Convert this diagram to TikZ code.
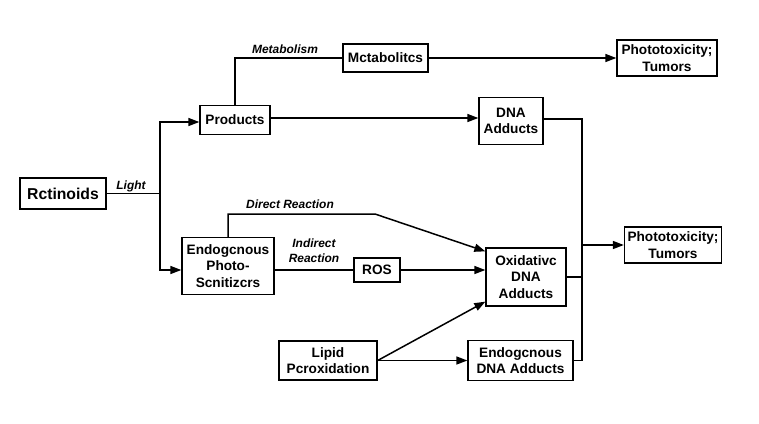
\documentclass[tikz,border=0pt]{standalone}
\usepackage{fontspec}
\setmainfont{Liberation Sans}
\usetikzlibrary{arrows.meta}
\begin{document}
\begin{tikzpicture}[x=1bp,y=-1bp,
  box/.style={draw,line width=1.3bp,fill=white,align=center,inner sep=0pt,
    font=\bfseries\fontsize{13.7}{16.5}\selectfont},
  lab/.style={font=\bfseries\itshape\fontsize{12}{15}\selectfont,align=center},
  conn/.style={line width=1.5bp},
  arr/.style={conn,-{Triangle[length=11bp,width=8bp]}}]
\useasboundingbox[fill=white] (0,0) rectangle (759,423);
% boxes
\node[box,minimum width=86bp,minimum height=31bp,font=\bfseries\fontsize{15.8}{17}\selectfont] (ret) at (63,193.5) {Rctinoids};
\node[box,minimum width=70bp,minimum height=29bp] (prod) at (235,120) {Products};
\node[box,minimum width=85bp,minimum height=28bp] (met) at (385.5,58) {Mctabolitcs};
\node[box,minimum width=100bp,minimum height=36bp] (ph1) at (667,58) {Phototoxicity;\\Tumors};
\node[box,minimum width=64bp,minimum height=47bp] (dna) at (511,121) {DNA\\Adducts};
\node[box,minimum width=92bp,minimum height=57bp] (endo) at (228,266) {Endogcnous\\Photo-\\Scnitizcrs};
\node[box,minimum width=46bp,minimum height=24bp] (ros) at (377,270) {ROS};
\node[box,minimum width=80bp,minimum height=58bp] (ox) at (526,277) {Oxidativc\\DNA\\Adducts};
\node[box,minimum width=97bp,minimum height=36bp] (ph2) at (673,245) {Phototoxicity;\\Tumors};
\node[box,minimum width=98bp,minimum height=39bp] (lip) at (328,360.5) {Lipid\\Pcroxidation};
\node[box,minimum width=105bp,minimum height=40bp] (edna) at (520.5,360.5) {Endogcnous\\DNA Adducts};
% labels
\node[lab] (lLight) at (131,186) {Light};
\node[lab] (lMet) at (285,49) {Metabolism};
\node[lab] (lDir) at (290,204) {Direct Reaction};
\node[lab] (lInd) at (314,251) {Indirect\\Reaction};
% coordinates
\coordinate (split) at (160,193.5);
\coordinate (busx) at (582,0);
\coordinate (dr) at (375,214);
% connectors
\draw[conn] (ret.east) -- (split);
\draw[arr] (split) |- ([yshift=-2bp]prod.west);
\draw[arr] (split) |- (endo.west |- ros.west);
\draw[conn] (prod.north) |- (met.west);
\draw[arr] (met.east) -- (met.east -| ph1.west);
\draw[arr] ([yshift=2bp]prod.east) -- ([yshift=2bp]prod.east -| dna.west);
\draw[conn] ([yshift=2bp]dna.east) -| (busx |- edna.east) -- (edna.east);
\draw[conn] (ox.east) -- (ox.east -| busx);
\draw[arr] (ph2.west -| busx) -- (ph2.west);
\draw[arr] (endo.north) |- (dr) -- ([yshift=-4bp]ox.north west);
\draw[conn] (endo.east |- ros.west) -- (ros.west);
\draw[arr] (ros.east) -- (ros.east -| ox.west);
\draw[arr] (lip.east) -- ([yshift=5bp]ox.south west);
\draw[arr] (lip.east) -- (lip.east -| edna.west);
\end{tikzpicture}
\end{document}
